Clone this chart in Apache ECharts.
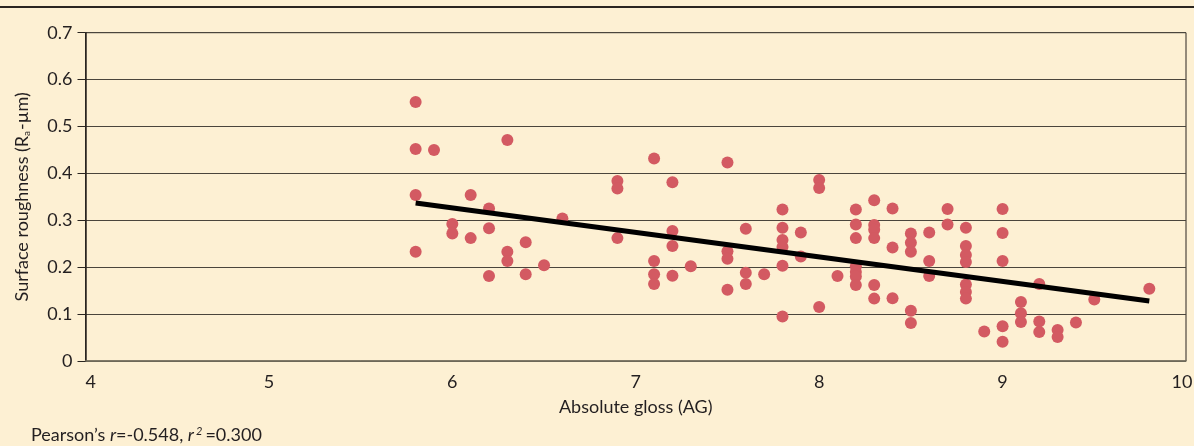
<!DOCTYPE html>
<html>
<head>
<meta charset="utf-8">
<script src="https://cdn.jsdelivr.net/npm/echarts@6/dist/echarts.min.js"></script>
<style>
html,body{margin:0;padding:0;background:#fdf0d3;overflow:hidden;}
#chart{width:1194px;height:446px;}
</style>
</head>
<body>
<div id="chart"></div>
<script>
// Absolute gloss (AG) of each sample
const gloss = [
  5.8, 5.8, 5.8, 5.8,
  5.9,
  6.0, 6.0,
  6.1, 6.1,
  6.2, 6.2, 6.2,
  6.3, 6.3, 6.3,
  6.4, 6.4,
  6.5,
  6.6,
  6.9, 6.9, 6.9,
  7.1, 7.1, 7.1, 7.1,
  7.2, 7.2, 7.2, 7.2,
  7.3,
  7.5, 7.5, 7.5, 7.5,
  7.6, 7.6, 7.6,
  7.7,
  7.8, 7.8, 7.8, 7.8, 7.8, 7.8,
  7.9, 7.9,
  8.0, 8.0, 8.0,
  8.1,
  8.2, 8.2, 8.2, 8.2, 8.2, 8.2, 8.2,
  8.3, 8.3, 8.3, 8.3, 8.3, 8.3,
  8.4, 8.4, 8.4,
  8.5, 8.5, 8.5, 8.5, 8.5,
  8.6, 8.6, 8.6,
  8.7, 8.7,
  8.8, 8.8, 8.8, 8.8, 8.8, 8.8, 8.8,
  8.9,
  9.0, 9.0, 9.0, 9.0, 9.0,
  9.1, 9.1, 9.1,
  9.2, 9.2, 9.2,
  9.3, 9.3,
  9.4,
  9.5,
  9.8
];
// Surface roughness (Ra-µm) of each sample
const roughness = [
  0.552, 0.452, 0.354, 0.233,
  0.450,
  0.292, 0.272,
  0.354, 0.262,
  0.325, 0.283, 0.181,
  0.471, 0.233, 0.213,
  0.253, 0.185,
  0.204,
  0.304,
  0.384, 0.368, 0.262,
  0.432, 0.213, 0.185, 0.164,
  0.381, 0.277, 0.245, 0.182,
  0.202,
  0.423, 0.234, 0.218, 0.152,
  0.282, 0.188, 0.164,
  0.185,
  0.323, 0.284, 0.258, 0.243, 0.203, 0.095,
  0.274, 0.223,
  0.386, 0.369, 0.115,
  0.181,
  0.323, 0.291, 0.262, 0.202, 0.190, 0.180, 0.162,
  0.343, 0.290, 0.280, 0.262, 0.162, 0.133,
  0.325, 0.242, 0.134,
  0.272, 0.252, 0.233, 0.107, 0.081,
  0.274, 0.213, 0.181,
  0.324, 0.291,
  0.284, 0.245, 0.226, 0.211, 0.163, 0.147, 0.133,
  0.063,
  0.324, 0.273, 0.213, 0.074, 0.041,
  0.126, 0.102, 0.083,
  0.164, 0.084, 0.062,
  0.066, 0.051,
  0.082,
  0.131,
  0.154
];
// Regression line end points
const fitGloss = [5.8, 9.8];
const fitRoughness = [0.337, 0.128];

const xTicks = [4, 5, 6, 7, 8, 9, 10];
const yTicks = [0, 0.1, 0.2, 0.3, 0.4, 0.5, 0.6, 0.7];

const points = gloss.map((g, i) => [g, roughness[i]]);
const fitLine = fitGloss.map((g, i) => [g, fitRoughness[i]]);

const FONT = 'Lato';
const FS = 18;
const TXT = '#231f20';
const X_MAX = xTicks[xTicks.length - 1];
const chart = echarts.init(document.getElementById('chart'), null, {renderer: 'canvas', width: 1194, height: 446});
chart.setOption({
  backgroundColor: '#fdf0d3',
  animation: false,
  textStyle: {fontFamily: FONT},
  title: {
    left: 26, top: 421,
    text: '{n|Pearson\u2019s }{i|r}{n|=-0.548, }{i|r}{s|2}{n|=0.300}',
    textStyle: {
      fontWeight: 'normal',
      rich: {
        n: {fontFamily: FONT, fontSize: FS, fontWeight: 'normal', color: TXT},
        i: {fontFamily: FONT, fontSize: FS, fontWeight: 'normal', fontStyle: 'italic', color: TXT},
        s: {fontFamily: FONT, fontSize: 11, fontWeight: 'normal', fontStyle: 'italic', color: TXT, verticalAlign: 'top', padding: [0, 3, 8, 2]}
      }
    }
  },
  graphic: [{
    type: 'line', silent: true,
    shape: {x1: 0, y1: 7, x2: 1194, y2: 7},
    style: {stroke: '#2a2520', lineWidth: 2}
  }],
  grid: {
    left: 85.5, right: 8, top: 32.7, bottom: 85,
    containLabel: false, outerBoundsMode: 'none',
    show: true, borderColor: '#2a2520', borderWidth: 1, backgroundColor: 'transparent'
  },
  xAxis: {
    type: 'value', min: xTicks[0], max: X_MAX, interval: 1,
    name: 'Absolute gloss (AG)', nameLocation: 'middle', nameGap: 37,
    nameTextStyle: {fontFamily: FONT, fontSize: FS, color: TXT},
    axisLine: {show: true, lineStyle: {color: '#7a7462', width: 1.5}},
    axisTick: {show: false},
    axisLabel: {
      fontFamily: FONT, fontSize: FS, color: TXT, margin: 12, alignMinLabel: 'left',
      formatter: v => v === X_MAX ? '{m|' + v + '}' : String(v),
      rich: {m: {fontFamily: FONT, fontSize: FS, color: TXT, padding: [0, 8, 0, 0]}}
    },
    splitLine: {show: false}
  },
  yAxis: {
    type: 'value', min: yTicks[0], max: yTicks[yTicks.length - 1], interval: 0.1,
    name: '{n|Surface roughness (R}{b|a}{n|-\u00b5m)}', nameLocation: 'middle', nameGap: 54,
    nameTextStyle: {
      fontFamily: FONT, fontSize: FS, color: TXT,
      rich: {
        n: {fontFamily: FONT, fontSize: FS, color: TXT},
        b: {fontFamily: FONT, fontSize: 10, color: TXT, verticalAlign: 'bottom', padding: [7, 1, 0, 0]}
      }
    },
    axisLine: {show: true, lineStyle: {color: '#2a2520', width: 1.5}},
    axisTick: {show: true, length: 8, lineStyle: {color: '#2a2520', width: 1}},
    axisLabel: {fontFamily: FONT, fontSize: FS, color: TXT, margin: 13,
      formatter: v => (Math.round(v * 10) / 10).toString()},
    splitLine: {show: true, lineStyle: {color: '#4a453c', width: 1.2}}
  },
  series: [{
    type: 'scatter',
    data: points,
    symbol: 'circle', symbolSize: 12,
    itemStyle: {color: '#d35a62', opacity: 1},
    z: 3
  }, {
    type: 'line',
    data: fitLine,
    symbol: 'none',
    lineStyle: {color: '#000000', width: 5},
    z: 4
  }]
});
</script>
</body>
</html>
